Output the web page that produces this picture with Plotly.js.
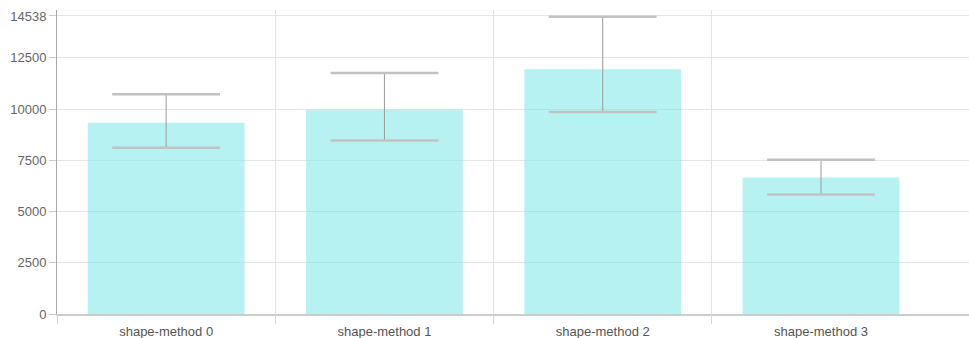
<!DOCTYPE html>
<html>
<head>
<meta charset="utf-8">
<script src="https://cdn.plot.ly/plotly-3.0.1.min.js"></script>
<style>html,body{margin:0;padding:0;background:#fff;}#chart{width:969px;height:338px;}</style>
</head>
<body>
<div id="chart"></div>
<script>
const categories = ["shape-method 0", "shape-method 1", "shape-method 2", "shape-method 3"];
const means = [9332, 9967, 11938, 6661];
const lows = [8111, 8469, 9853, 5831];
const highs = [10716, 11759, 14495, 7524];
const yTickVals = [0, 2500, 5000, 7500, 10000, 12500, 14538];
const yTickText = ["0", "2500", "5000", "7500", "10000", "12500", "14538"];

const idx = categories.map((c, i) => i);
const boundaries = categories.map((c, i) => i - 0.5);
const xRange = [-0.5, 3.678];

const bars = {
  type: 'bar',
  x: categories,
  y: means,
  marker: {color: 'rgba(112,230,230,0.5)'},
  error_y: {
    type: 'data', symmetric: false,
    array: highs.map((h, i) => h - means[i]),
    arrayminus: lows.map((l, i) => means[i] - l),
    color: '#9a9a9a', thickness: 1, width: 0
  },
  hoverinfo: 'none'
};
const capStyle = {
  type: 'scatter', mode: 'markers', xaxis: 'x2', x: idx,
  marker: {symbol: 'line-ew', size: 77, color: '#c2c2c2', line: {color: '#c2c2c2', width: 2.5}},
  hoverinfo: 'none', cliponaxis: false
};
const capsHigh = Object.assign({}, capStyle, {y: highs});
const capsLow = Object.assign({}, capStyle, {y: lows});

const layout = {
  width: 969, height: 338,
  margin: {l: 57, r: 0, t: 10, b: 24},
  showlegend: false,
  bargap: 0.282,
  paper_bgcolor: '#fff', plot_bgcolor: '#fff',
  font: {family: 'Liberation Sans, Arial, sans-serif', size: 13, color: '#666'},
  xaxis: {
    type: 'category', range: xRange, showgrid: false, zeroline: false,
    showline: true, linecolor: '#cccccc', linewidth: 2,
    ticks: 'outside', ticklen: 4, tickcolor: 'rgba(0,0,0,0)',
    tickfont: {size: 13, color: '#555'}
  },
  xaxis2: {
    overlaying: 'x', anchor: 'y', side: 'bottom', range: xRange,
    tickmode: 'array', tickvals: boundaries, showticklabels: false,
    showgrid: true, gridcolor: '#e3e3e3', gridwidth: 1, zeroline: false,
    ticks: 'outside', ticklen: 9, tickcolor: '#d8d8d8', showline: false
  },
  yaxis: {
    range: [0, 14830], tickmode: 'array', tickvals: yTickVals, ticktext: yTickText,
    showgrid: true, gridcolor: '#e6e6e6', zeroline: false,
    showline: true, linecolor: '#aaaaaa', linewidth: 1,
    ticks: 'outside', ticklen: 7, tickcolor: '#cccccc',
    tickfont: {size: 13, color: '#666'}
  }
};
Plotly.newPlot('chart', [bars, capsHigh, capsLow], layout, {displayModeBar: false, staticPlot: true});
</script>
</body>
</html>
